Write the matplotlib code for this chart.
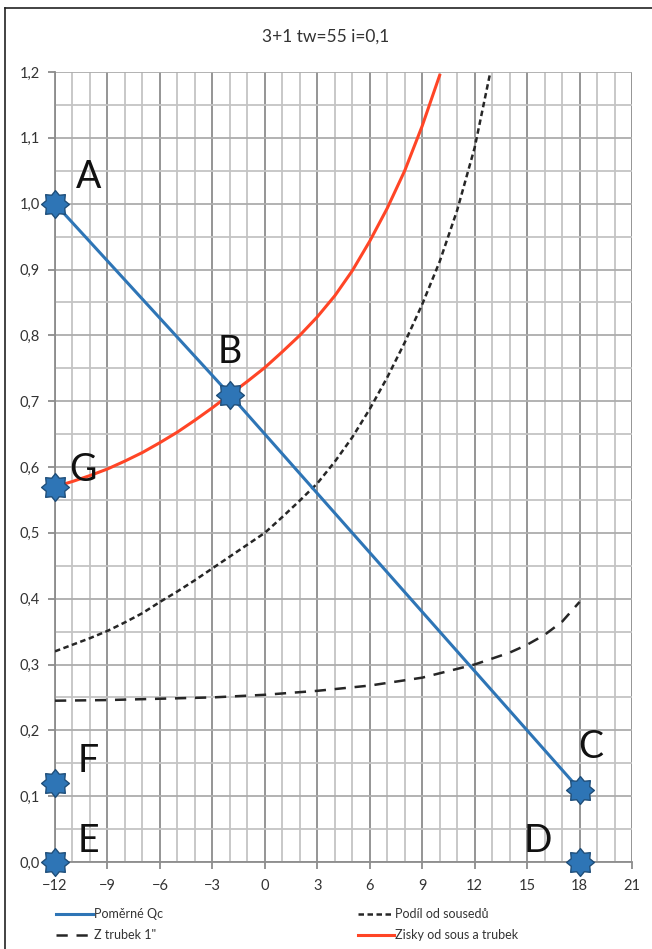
import numpy as np
import matplotlib
matplotlib.use("Agg")
import matplotlib.pyplot as plt
from matplotlib.path import Path
from matplotlib.lines import Line2D
from matplotlib.ticker import MultipleLocator, FuncFormatter

plt.rcParams['font.family'] = ['Lato', 'DejaVu Sans']

title = "3+1 tw=55 i=0,1"

# Poměrné Qc (A - B - C)
qc_x = [-12, -2, 18]
qc_y = [1.0, 0.71, 0.11]

# Podíl od sousedů
sous_x = [-12, -11, -10, -9, -8, -7, -6, -5, -4, -3, -2, -1, 0, 1, 2, 3, 4, 5, 6, 7, 8, 9, 10, 11, 12, 12.9]
sous_y = [0.320, 0.330, 0.340, 0.351, 0.364, 0.378, 0.395, 0.411, 0.428, 0.446, 0.464, 0.482, 0.500,
          0.524, 0.549, 0.575, 0.608, 0.645, 0.688, 0.736, 0.789, 0.847, 0.912, 0.990, 1.085, 1.200]

# Z trubek 1"
trub_x = [-12, -9, -6, -3, 0, 3, 6, 9, 12, 14, 15, 16, 17, 18]
trub_y = [0.245, 0.246, 0.248, 0.250, 0.254, 0.260, 0.268, 0.280, 0.300, 0.318, 0.330, 0.345, 0.365, 0.395]

# Zisky od sous a trubek
zisk_x = [-12, -11, -10, -9, -8, -7, -6, -5, -4, -3, -2, -1, 0, 1, 2, 3, 4, 5, 6, 7, 8, 9, 10]
zisk_y = [0.570, 0.578, 0.587, 0.597, 0.609, 0.622, 0.637, 0.653, 0.671, 0.690, 0.710, 0.730, 0.751,
          0.775, 0.800, 0.828, 0.860, 0.898, 0.943, 0.993, 1.050, 1.118, 1.195]

# labelled points
pt_names = ["A", "B", "C", "D", "E", "F", "G"]
pt_x = [-12, -2, 18, 18, -12, -12, -12]
pt_y = [1.0, 0.71, 0.11, 0.0, 0.0, 0.12, 0.57]
lbl_off = [(24, 19), (0, 31), (8, 31), (-30, 15), (24, 15), (24, 16), (20, 12)]

blue = '#2E75B6'
red = '#FF4526'

# 8-point star marker
ang = np.pi / 2 + np.arange(16) * np.pi / 8
rad = np.where(np.arange(16) % 2 == 0, 1.0, 0.72)
verts = np.column_stack([rad * np.cos(ang), rad * np.sin(ang)])
verts = np.vstack([verts, verts[:1]])
star = Path(verts, closed=True)

fig = plt.figure(figsize=(6.52, 9.49), dpi=100)
ax = fig.add_axes([55 / 652, 1 - 862 / 949, 577 / 652, 790 / 949])

l1, = ax.plot(qc_x, qc_y, color=blue, lw=2.2, zorder=4)
l2, = ax.plot(sous_x, sous_y, color='#262626', lw=1.8, ls=(0, (2.2, 1.4)), zorder=3)
l3, = ax.plot(trub_x, trub_y, color='#262626', lw=1.8, ls=(0, (4.5, 3.5)), zorder=3)
l4, = ax.plot(zisk_x, zisk_y, color=red, lw=2.2, zorder=3)

ax.plot(pt_x, pt_y, ls='none', marker=star, ms=20, mfc=blue, mec='#1F4E79', mew=1.0,
        zorder=6, clip_on=False)
for n, x, y, off in zip(pt_names, pt_x, pt_y, lbl_off):
    ax.annotate(n, (x, y), xytext=off, textcoords='offset points', fontsize=27,
                color='#111111', ha='center', va='center', zorder=7)

ax.set_xlim(-12, 21)
ax.set_ylim(0, 1.2)
ax.xaxis.set_major_locator(MultipleLocator(3))
ax.xaxis.set_minor_locator(MultipleLocator(1))
ax.yaxis.set_major_locator(MultipleLocator(0.1))
ax.yaxis.set_minor_locator(MultipleLocator(0.05))
ax.yaxis.set_major_formatter(FuncFormatter(lambda v, p: f"{v:.1f}".replace('.', ',')))
ax.grid(which='major', axis='x', color='#8C8C8C', lw=1.3)
ax.grid(which='minor', axis='x', color='#C4C4C4', lw=1.3)
ax.grid(which='major', axis='y', color='#ADADAD', lw=1.3)
ax.grid(which='minor', axis='y', color='#C4C4C4', lw=1.3)
ax.set_axisbelow(True)
for s in ['top', 'right']:
    ax.spines[s].set_visible(False)
for s in ['left', 'bottom']:
    ax.spines[s].set_color('#8C8C8C')
    ax.spines[s].set_linewidth(1.3)
ax.tick_params(which='major', length=5, color='#8C8C8C', width=1.3, labelsize=10.5,
               labelcolor='#333333')
ax.tick_params(axis='y', pad=6)
ax.tick_params(axis='x', pad=7)
ax.tick_params(which='minor', length=0)

fig.text(326 / 652, 1 - 37 / 949, title, ha='center', va='center', fontsize=12.5, color='#333333')

fig.legend([l1, l3, l2, l4], ["Poměrné Qc", 'Z trubek 1"', "Podíl od sousedů", "Zisky od sous a trubek"],
           ncol=2, loc='upper left', bbox_to_anchor=(45 / 652, 1 - 897 / 949), frameon=False,
           fontsize=9, handlelength=2.9, handletextpad=0.1, columnspacing=15.6,
           labelspacing=0.7, labelcolor='#333333')

# figure border
fig.add_artist(Line2D([5 / 652, 5 / 652], [0, 1 - 8 / 949], color='#222222', lw=1.2))
fig.add_artist(Line2D([5 / 652, 1], [1 - 8 / 949, 1 - 8 / 949], color='#222222', lw=1.2))

fig.savefig('out.png', dpi=100)
